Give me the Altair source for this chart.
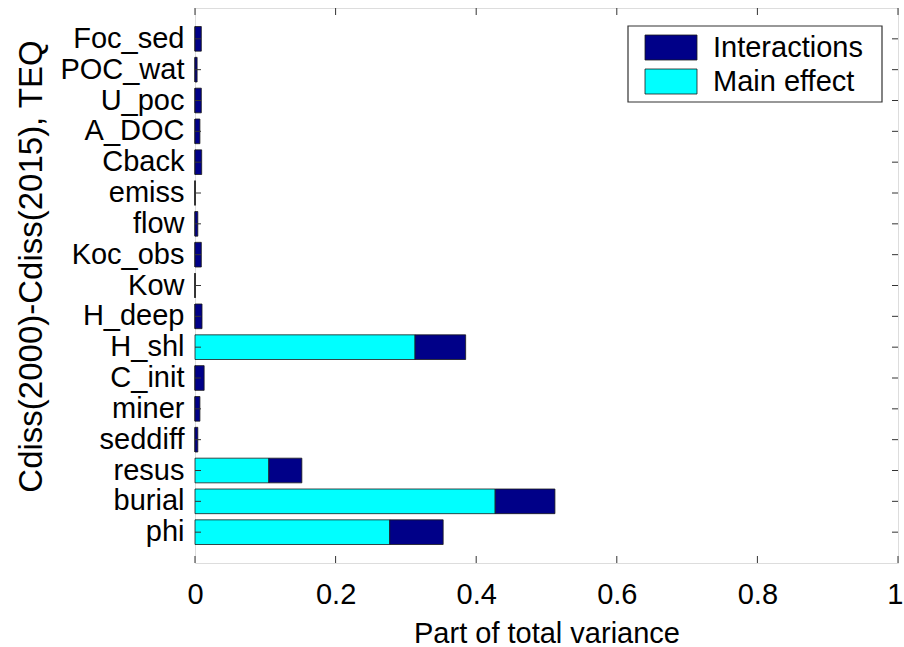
import altair as alt
import pandas as pd

# Model parameters, listed top to bottom as drawn
params = ["Foc_sed", "POC_wat", "U_poc", "A_DOC", "Cback", "emiss", "flow",
          "Koc_obs", "Kow", "H_deep", "H_shl", "C_init", "miner", "seddiff",
          "resus", "burial", "phi"]

# Part of total variance explained by each parameter
main_effect = [0.0, 0.0, 0.0, 0.0, 0.0, 0.0, 0.0, 0.0, 0.0, 0.0,
               0.313, 0.0, 0.0, 0.0, 0.105, 0.427, 0.277]
interactions = [0.009, 0.003, 0.009, 0.007, 0.0095, 0.0, 0.004, 0.009, 0.0, 0.010,
                0.072, 0.013, 0.007, 0.004, 0.047, 0.085, 0.076]

series_names = ["Interactions", "Main effect"]
series_colors = ["#000088", "#00ffff"]
x_ticks = [0, 0.2, 0.4, 0.6, 0.8, 1.0]

FONT = "Liberation Sans"
W, H = 703, 555
EDGE = "#333333"

rows = []
for p, m, i in zip(params, main_effect, interactions):
    rows.append({"param": p, "series": "Main effect", "value": m, "stack_order": 0})
    rows.append({"param": p, "series": "Interactions", "value": i, "stack_order": 1})
df = pd.DataFrame(rows)

y_scale = alt.Scale(domain=params, paddingInner=0.2, paddingOuter=0.6)
x_scale = alt.Scale(domain=[0, 1], nice=False, zero=True)
color_scale = alt.Scale(domain=series_names, range=series_colors)

y_axis = alt.Axis(
    title="Cdiss(2000)-Cdiss(2015), TEQ",
    titleFontSize=33, titleFont=FONT, titleFontWeight="normal", titleColor="black",
    titleAngle=270, titleX=-164, titleY=258, titleAlign="center", titleBaseline="middle",
    labelFontSize=29, labelFont=FONT, labelColor="black", labelPadding=11,
    labelOverlap=False, domain=False, ticks=False, tickSize=0, grid=False,
)
# the last label sits against the right edge, so it is right-aligned there
x_axis = alt.Axis(
    title="Part of total variance", values=x_ticks, format="~g",
    titleFontSize=29, titleFont=FONT, titleFontWeight="normal", titleColor="black",
    titleX=W / 2, titleY=79, titleAlign="center", titleBaseline="alphabetic",
    labelFontSize=29, labelFont=FONT, labelColor="black", labelPadding=17,
    labelAlign=alt.condition("datum.value == 1", alt.value("right"), alt.value("center")),
    labelOffset=alt.condition("datum.value == 1", alt.value(5), alt.value(0)),
    labelOverlap=False, labelFlush=False, domain=False, ticks=False, tickSize=0, grid=False,
)

y_enc = alt.Y("param:N", sort=params, scale=y_scale, axis=y_axis)

bars = alt.Chart(df).mark_bar(stroke="#1a1a1a", strokeWidth=0.8).encode(
    y=y_enc,
    x=alt.X("value:Q", stack="zero", scale=x_scale, axis=x_axis),
    color=alt.Color("series:N", scale=color_scale, legend=None),
    order=alt.Order("stack_order:Q"),
)

# Inward tick marks on all four sides of the box
param_df = pd.DataFrame({"param": params})
tick_df = pd.DataFrame({"value": x_ticks})

y_ticks_left = alt.Chart(param_df).mark_rule(color=EDGE, strokeWidth=1).encode(
    y=y_enc, x=alt.value(0), x2=alt.value(6))
y_ticks_right = alt.Chart(param_df).mark_rule(color=EDGE, strokeWidth=1).encode(
    y=y_enc, x=alt.value(W - 6), x2=alt.value(W))
x_ticks_bottom = alt.Chart(tick_df).mark_rule(color=EDGE, strokeWidth=1).encode(
    x=alt.X("value:Q", scale=x_scale, axis=x_axis), y=alt.value(H - 7), y2=alt.value(H))
x_ticks_top = alt.Chart(tick_df).mark_rule(color=EDGE, strokeWidth=1).encode(
    x=alt.X("value:Q", scale=x_scale, axis=x_axis), y=alt.value(0), y2=alt.value(7))

# Legend box in the upper right corner
legend_box = alt.Chart(pd.DataFrame({"series": series_names[:1]})).mark_rect(
    fill="white", stroke=EDGE, strokeWidth=1.2).encode(
    x=alt.value(433), x2=alt.value(687), y=alt.value(18), y2=alt.value(94))

legend_layers = [legend_box]
swatch_top = [27, 61]
for name, top in zip(series_names, swatch_top):
    entry = pd.DataFrame({"series": [name]})
    legend_layers.append(
        alt.Chart(entry).mark_rect(stroke="#1a1a1a", strokeWidth=0.8).encode(
            x=alt.value(450), x2=alt.value(502), y=alt.value(top), y2=alt.value(top + 25),
            color=alt.Color("series:N", scale=color_scale, legend=None)))
    legend_layers.append(
        alt.Chart(entry).mark_text(align="left", baseline="alphabetic", fontSize=29,
                                   font=FONT, color="black").encode(
            x=alt.value(518), y=alt.value(top + 22), text="series:N"))

chart = alt.layer(
    bars, y_ticks_left, y_ticks_right, x_ticks_bottom, x_ticks_top, *legend_layers
).properties(
    width=W, height=H,
    autosize=alt.AutoSizeParams(type="none"),
    padding={"left": 195, "top": 8, "right": 6, "bottom": 84},
).configure_view(stroke=EDGE, strokeWidth=1.2).configure(background="white")

chart.save("out.html", embed_options={"renderer": "svg", "actions": False})
